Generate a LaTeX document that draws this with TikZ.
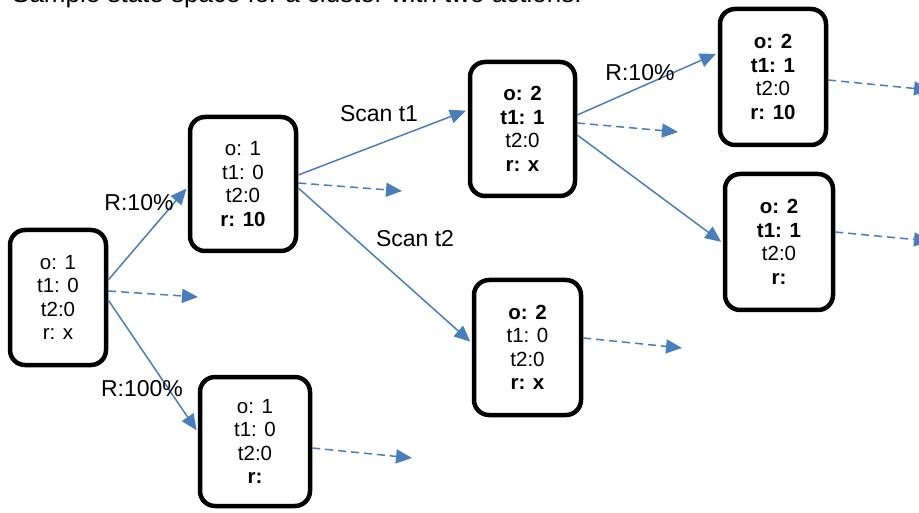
\documentclass[tikz,border=0pt]{standalone}
\usepackage{fontspec}
\setmainfont{Liberation Sans}
\usetikzlibrary{arrows.meta}
\definecolor{arrowblue}{RGB}{74,126,187}
\begin{document}
\begin{tikzpicture}[x=1pt,y=-1pt,
  state/.style={draw=black, line width=4.5pt, rounded corners=15pt, fill=white,
    align=center, inner sep=0pt, font=\fontsize{20.5}{23.5}\selectfont},
  lbl/.style={font=\fontsize{23}{26}\selectfont, inner sep=0pt},
  conn/.style={draw=arrowblue, line width=1.5pt, -{Triangle[length=16pt,width=14pt]}, shorten >=2pt},
  dconn/.style={conn, dash pattern=on 8pt off 5pt, shorten >=0pt}
]
\useasboundingbox (0,0) rectangle (919,513);
\clip (0,0) rectangle (919,513);

\node[font=\fontsize{26}{30}\selectfont, inner sep=0pt, anchor=base west] (title) at (12,3) {Sample state space for a cluster with two actions.};

\node[state, minimum width=96pt, minimum height=135pt] (A) at (58,297.5) {o: 1\\t1: 0\\t2:0\\r: x};
\node[state, minimum width=106pt, minimum height=134pt] (B) at (243,184) {o: 1\\t1: 0\\t2:0\\\textbf{r: 10}};
\node[state, minimum width=105pt, minimum height=134pt] (C) at (522.5,129) {\textbf{o: 2}\\\textbf{t1: 1}\\t2:0\\\textbf{r: x}};
\node[state, minimum width=106pt, minimum height=136pt] (D) at (773,77) {\textbf{o: 2}\\\textbf{t1: 1}\\t2:0\\\textbf{r: 10}};
\node[state, minimum width=108pt, minimum height=136pt] (E) at (779,242) {\textbf{o: 2}\\\textbf{t1: 1}\\t2:0\\\textbf{r:}};
\node[state, minimum width=107pt, minimum height=135pt] (F) at (527.5,347.5) {\textbf{o: 2}\\t1: 0\\t2:0\\\textbf{r: x}};
\node[state, minimum width=110pt, minimum height=129pt] (G) at (255,441.5) {o: 1\\t1: 0\\t2:0\\\textbf{r:}};

\coordinate (Ad) at (198,297);
\coordinate (Bd) at (402,191);
\coordinate (Cd) at (678,132);
\coordinate (Dd) at (930,90);
\coordinate (Ed) at (930,241);
\coordinate (Fd) at (682,348);
\coordinate (Gd) at (412,458);

\draw[conn] ([yshift=17.5pt]A.east) -- ([yshift=-3pt]B.west);
\draw[dconn] ([yshift=6.5pt]A.east) -- (Ad);
\draw[conn] ([yshift=-2.5pt]A.east) -- ([yshift=9.5pt]G.west);
\draw[conn] ([yshift=9pt]B.east) -- ([yshift=19pt]C.west);
\draw[dconn] ([yshift=1pt]B.east) -- (Bd);
\draw[conn] ([yshift=-4pt]B.east) -- ([yshift=4.5pt]F.west);
\draw[conn] ([yshift=14pt]C.east) -- ([yshift=24pt]D.west);
\draw[dconn] ([yshift=6pt]C.east) -- (Cd);
\draw[conn] ([yshift=-6pt]C.east) -- ([yshift=-1pt]E.west);
\draw[dconn] ([yshift=-3pt]D.east) -- (Dd);
\draw[dconn] ([yshift=10pt]E.east) -- (Ed);
\draw[dconn] ([yshift=9.5pt]F.east) -- (Fd);
\draw[dconn] ([yshift=-6.5pt]G.east) -- (Gd);

\node[lbl] (l1) at (139,203) {R:10\%};
\node[lbl] (l2) at (142,389) {R:100\%};
\node[lbl] (l3) at (379,114) {Scan t1};
\node[lbl] (l4) at (415,239) {Scan t2};
\node[lbl] (l5) at (640,73) {R:10\%};
\end{tikzpicture}
\end{document}
